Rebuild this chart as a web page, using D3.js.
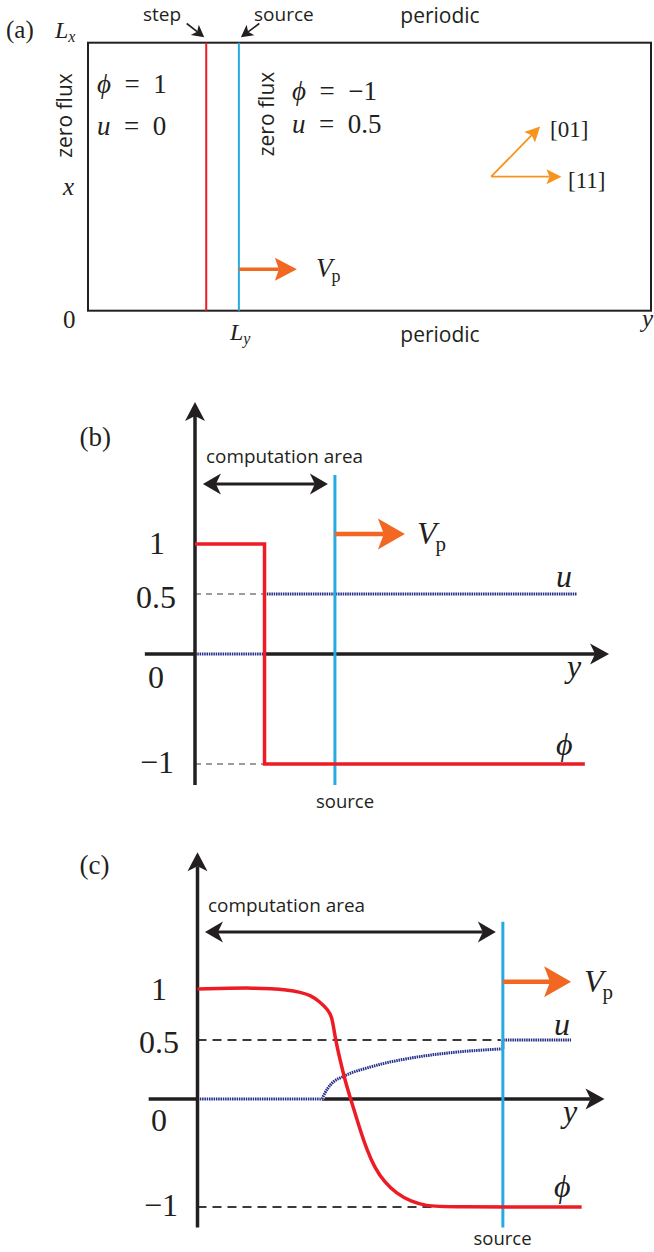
<!DOCTYPE html>
<html><head><meta charset="utf-8">
<script src="https://cdn.jsdelivr.net/npm/d3@7"></script>
<style>body{margin:0;background:#fff}svg{display:block}</style>
</head><body>
<script>
// ---------- data ----------
const tickValues = [1, 0.5, 0, -1];
const tickLabels = ["1", "0.5", "0", "\u22121"];
// panel (a): positions along y (0..100 of box width), x (0..1 of box height)
const stepA = 21.0, sourceA = 26.8;
const vpA = {y0: 26.8, y1: 37.1, x: 0.155};
const dirOrigin = [71.6, 0.5], dir01 = [80.3, 0.687], dir11 = [84.1, 0.5];
// panel (b)
const phiB = [[0, 1], [15.8, 1], [15.8, -1], [88.6, -1]];
const uB0 = [[0, 0], [15.8, 0]];
const uB1 = [[15.8, 0.5], [86.7, 0.5]];
const sourceB = 31.8, stepB = 15.8;
// panel (c)
const phiC = [[0,1.0],[13.5,1.015],[21,0.99],[23.3,0.968],[25.6,0.941],[27.8,0.875],[29.7,0.794],[30.5,0.728],[30.9,0.63],[31.4,0.5],[32.4,0.331],[33.5,0.161],[34.8,0],[35.8,-0.13],[37,-0.29],[38.5,-0.47],[40.3,-0.64],[42.5,-0.77],[45.2,-0.875],[48.5,-0.95],[52,-0.99],[56,-1],[87.3,-1]];
const uC0 = [[0, 0], [28.3, 0]];
const uC1 = [[28.3,0],[28.8,0.04],[29.6,0.09],[30.9,0.145],[33.1,0.19],[34.7,0.218],[37.7,0.254],[42.2,0.3],[49.8,0.355],[57.4,0.392],[69.4,0.425]];
const uC2 = [[69.4, 0.425], [69.4, 0.5], [84.9, 0.5]];
const sourceC = 69.4, phiDashEndC = 54.4;

// ---------- styles ----------
const RED = "#ed1c24", BLUE = "#27aae1", ORANGE = "#f26722", ORANGE2 = "#f7941d", NAVY = "#262f8a", INK = "#231f20";
const SERIF = "'Liberation Serif','Times New Roman',serif", SANS = "'Open Sans',sans-serif";

const svg = d3.select("body").append("svg").attr("width", 654).attr("height", 1252);
svg.append("rect").attr("width", 654).attr("height", 1252).attr("fill", "#fff");

function head(g, tip, angle, L, W, notch, color) {
  const c = Math.cos(angle), s = Math.sin(angle);
  const bx = tip[0] - L * c, by = tip[1] - L * s;
  const pts = [tip, [bx - W * s, by + W * c], [tip[0] - (L - notch) * c, tip[1] - (L - notch) * s], [bx + W * s, by - W * c]];
  g.append("path").attr("d", "M" + pts.map(p => p.join(",")).join("L") + "Z").attr("fill", color);
  return [tip[0] - (L - notch) * c, tip[1] - (L - notch) * s];
}
function arrow(g, from, to, L, W, notch, color, sw) {
  const a = Math.atan2(to[1] - from[1], to[0] - from[0]);
  const e = head(g, to, a, L, W, notch, color);
  g.append("line").attr("x1", from[0]).attr("y1", from[1]).attr("x2", e[0]).attr("y2", e[1])
    .attr("stroke", color).attr("stroke-width", sw);
}
function dbl(g, p0, p1, L, W, notch, color, sw) {
  const a = Math.atan2(p1[1] - p0[1], p1[0] - p0[0]);
  const e1 = head(g, p1, a, L, W, notch, color);
  const e0 = head(g, p0, a + Math.PI, L, W, notch, color);
  g.append("line").attr("x1", e0[0]).attr("y1", e0[1]).attr("x2", e1[0]).attr("y2", e1[1])
    .attr("stroke", color).attr("stroke-width", sw);
}
function txt(g, x, y, s, size, fam, opts = {}) {
  const t = g.append("text").attr("x", x).attr("y", y).attr("font-size", size)
    .attr("font-family", fam).attr("fill", INK).text(s);
  if (opts.italic) t.attr("font-style", "italic");
  if (opts.anchor) t.attr("text-anchor", opts.anchor);
  if (opts.len) t.attr("textLength", opts.len).attr("lengthAdjust", "spacingAndGlyphs");
  return t;
}
function sub(g, x, y, main, subs, size, subSize, dx, dy) {
  const t = g.append("text").attr("x", x).attr("y", y).attr("font-family", SERIF).attr("fill", INK);
  t.append("tspan").attr("font-style", "italic").attr("font-size", size).text(main);
  t.append("tspan").attr("font-size", subSize).attr("dx", dx).attr("dy", dy).text(subs.text)
    .attr("font-style", subs.italic ? "italic" : "normal");
}
function eq(g, x, y, v, rhs, size) {
  const t = g.append("text").attr("x", x).attr("y", y).attr("font-family", SERIF).attr("font-size", size).attr("fill", INK);
  t.append("tspan").attr("font-style", "italic").text(v);
  t.append("tspan").text("\u2002=\u2002" + rhs);
}

// ---------- panel (a) ----------
const ga = svg.append("g");
const aY = d3.scaleLinear([0, 100], [88, 651]);
const aX = d3.scaleLinear([0, 1], [310.7, 42.7]);
ga.append("rect").attr("x", aY(0)).attr("y", aX(1)).attr("width", aY(100) - aY(0)).attr("height", aX(0) - aX(1))
  .attr("fill", "none").attr("stroke", INK).attr("stroke-width", 2);
ga.append("line").attr("x1", aY(stepA)).attr("x2", aY(stepA)).attr("y1", aX(1)).attr("y2", aX(0)).attr("stroke", RED).attr("stroke-width", 2);
ga.append("line").attr("x1", aY(sourceA)).attr("x2", aY(sourceA)).attr("y1", aX(1)).attr("y2", aX(0)).attr("stroke", BLUE).attr("stroke-width", 2);
arrow(ga, [aY(vpA.y0), aX(vpA.x)], [aY(vpA.y1), aX(vpA.x)], 22, 11.5, 4, ORANGE, 3.5);
arrow(ga, [aY(dirOrigin[0]), aX(dirOrigin[1])], [aY(dir01[0]), aX(dir01[1])], 15, 7.5, 3, ORANGE2, 1.8);
arrow(ga, [aY(dirOrigin[0]), aX(dirOrigin[1])], [aY(dir11[0]), aX(dir11[1])], 15, 7.5, 3, ORANGE2, 1.8);
arrow(ga, [186.7, 23.5], [aY(stepA) - 2, aX(1) - 5.5], 12, 6.5, 3, INK, 1.6);
arrow(ga, [259.3, 23.5], [aY(sourceA) + 2, aX(1) - 5.5], 12, 6.5, 3, INK, 1.6);
txt(ga, 6, 37.5, "(a)", 25, SERIF);
sub(ga, 55, 37.5, "L", {text: "x", italic: true}, 24, 16, 0, 4);
txt(ga, 143, 20.5, "step", 19, SANS);
txt(ga, 254, 20.5, "source", 19, SANS);
txt(ga, 440, 22.5, "periodic", 21, SANS, {anchor: "middle"});
txt(ga, 440, 342, "periodic", 21, SANS, {anchor: "middle"});
txt(ga, 0, 0, "zero flux", 21, SANS, {anchor: "middle"}).attr("transform", "translate(71.5,115.5) rotate(-90)");
txt(ga, 0, 0, "zero flux", 21, SANS, {anchor: "middle"}).attr("transform", "translate(274,114) rotate(-90)");
eq(ga, 97, 92.7, "\u03d5", "1", 27);
eq(ga, 97, 135, "u", "0", 27);
eq(ga, 292, 100, "\u03d5", "\u22121", 27);
eq(ga, 292, 133, "u", "0.5", 27);
txt(ga, 63, 195, "x", 25, SERIF, {italic: true});
txt(ga, 63, 328, "0", 25, SERIF);
sub(ga, 230, 340, "L", {text: "y", italic: true}, 24, 16, 0, 4);
txt(ga, 642, 327, "y", 25, SERIF, {italic: true});
sub(ga, 316, 277, "V", {text: "p", italic: false}, 27, 18, -1, 5);
txt(ga, 550, 137, "[01]", 23, SERIF);
txt(ga, 568, 188, "[11]", 23, SERIF);

// ---------- panels (b) & (c) ----------
function panel(cfg) {
  const g = svg.append("g");
  const xs = d3.scaleLinear([0, 100], cfg.xRange);
  const ys = d3.scaleLinear([-1, 0, 0.5, 1], cfg.yRange);
  const line = d3.line().x(d => xs(d[0])).y(d => ys(d[1]));
  // dashed guides
  cfg.dashes.forEach(d => {
    g.append("line").attr("x1", xs(0)).attr("x2", xs(d.end)).attr("y1", ys(d.v)).attr("y2", ys(d.v))
      .attr("stroke", "#3a3a3a").attr("stroke-width", cfg.dashW).attr("stroke-dasharray", cfg.dashPat);
  });
  // horizontal axis
  arrow(g, [xs(cfg.hAxis[0]), ys(0)], [xs(cfg.hAxis[1]), ys(0)], 19, 10.5, 5, INK, 3.5);
  // u dotted (white underlay hides the axis beneath, as in the original)
  cfg.u.forEach((seg, i) => {
    const d = (cfg.uCurve[i] ? line.curve(d3.curveMonotoneX) : line.curve(d3.curveLinear))(seg);
    g.append("path").attr("d", d).attr("fill", "none").attr("stroke", "#fff").attr("stroke-width", 4);
    g.append("path").attr("d", d)
      .attr("fill", "none").attr("stroke", NAVY).attr("stroke-width", 3).attr("stroke-dasharray", "1.5,0.8");
  });
  // vertical axis
  arrow(g, [xs(0), ys(cfg.vAxis[0])], [xs(0), ys(cfg.vAxis[1])], 19, 10, 5, INK, 3.5);
  // source line
  g.append("line").attr("x1", xs(cfg.source)).attr("x2", xs(cfg.source)).attr("y1", ys(cfg.sourceTop)).attr("y2", ys(cfg.vAxis[0]))
    .attr("stroke", BLUE).attr("stroke-width", 3);
  // phi
  g.append("path").attr("d", line.curve(cfg.phiCurve)(cfg.phi)).attr("fill", "none")
    .attr("stroke", RED).attr("stroke-width", 3.5).attr("stroke-linejoin", "miter");
  // computation area
  dbl(g, [xs(cfg.comp[0]), ys(cfg.compY)], [xs(cfg.comp[1]), ys(cfg.compY)], 18, 10.5, 5, INK, 3);
  // Vp arrow
  arrow(g, [xs(cfg.source), ys(cfg.vpY)], [xs(cfg.vpTip), ys(cfg.vpY)], 27, 15.5, 6, ORANGE, 4.5);
  // tick labels
  tickValues.forEach((v, i) => txt(g, cfg.tickX[i], cfg.tickBase[i], tickLabels[i], 32, SERIF, {anchor: "middle"}));
  // labels
  txt(g, 79.5, cfg.labelY, cfg.label, 27, SERIF);
  txt(g, cfg.compText[0], cfg.compText[1], "computation area", 19, SANS, {len: 157});
  txt(g, cfg.srcText[0], cfg.srcText[1], "source", 18.5, SANS, {anchor: "middle"});
  txt(g, cfg.uLab[0], cfg.uLab[1], "u", 32, SERIF, {italic: true});
  txt(g, cfg.phiLab[0], cfg.phiLab[1], "\u03d5", 32, SERIF, {italic: true});
  txt(g, cfg.yLab[0], cfg.yLab[1], "y", 32, SERIF, {italic: true});
  sub(g, cfg.vLab[0], cfg.vLab[1], "V", {text: "p", italic: false}, 32, 21, -1, 7);
}

panel({
  xRange: [195, 635], yRange: [764, 654, 594, 544],
  dashes: [{v: 0.5, end: stepB}, {v: -1, end: stepB}], dashW: 1.2, dashPat: "6,5",
  hAxis: [-11.4, 94.1], vAxis: [-1.19, 2.42],
  u: [uB0, uB1], uCurve: [false, false],
  source: sourceB, sourceTop: 1.69,
  phi: phiB, phiCurve: d3.curveLinear,
  comp: [1.8, 30.2], compY: 1.6,
  vpY: 1.1, vpTip: 47.7,
  tickX: [157, 156, 156, 157], tickBase: [554, 608, 688, 773],
  label: "(b)", labelY: 446,
  compText: [206, 463], srcText: [345, 808],
  uLab: [556, 587], phiLab: [556, 755], yLab: [567, 677], vLab: [417, 544]
});

panel({
  xRange: [197.5, 637.5], yRange: [1207, 1099, 1040, 989],
  dashes: [{v: 0.5, end: sourceC}, {v: -1, end: phiDashEndC}], dashW: 2.2, dashPat: "9,6",
  hAxis: [-11.1, 92.5], vAxis: [-1.19, 2.34],
  u: [uC0, uC1, uC2], uCurve: [false, true, false],
  source: sourceC, sourceTop: 1.66,
  phi: phiC, phiCurve: d3.curveBasis,
  comp: [1.7, 67.8], compY: 1.56,
  vpY: 1.07, vpTip: 84.9,
  tickX: [159, 159, 159, 161], tickBase: [1000, 1052.5, 1131, 1216],
  label: "(c)", labelY: 874,
  compText: [208, 912], srcText: [502.5, 1245],
  uLab: [554, 1035], phiLab: [554, 1197], yLab: [563, 1122], vLab: [584, 992]
});
</script>
</body></html>
